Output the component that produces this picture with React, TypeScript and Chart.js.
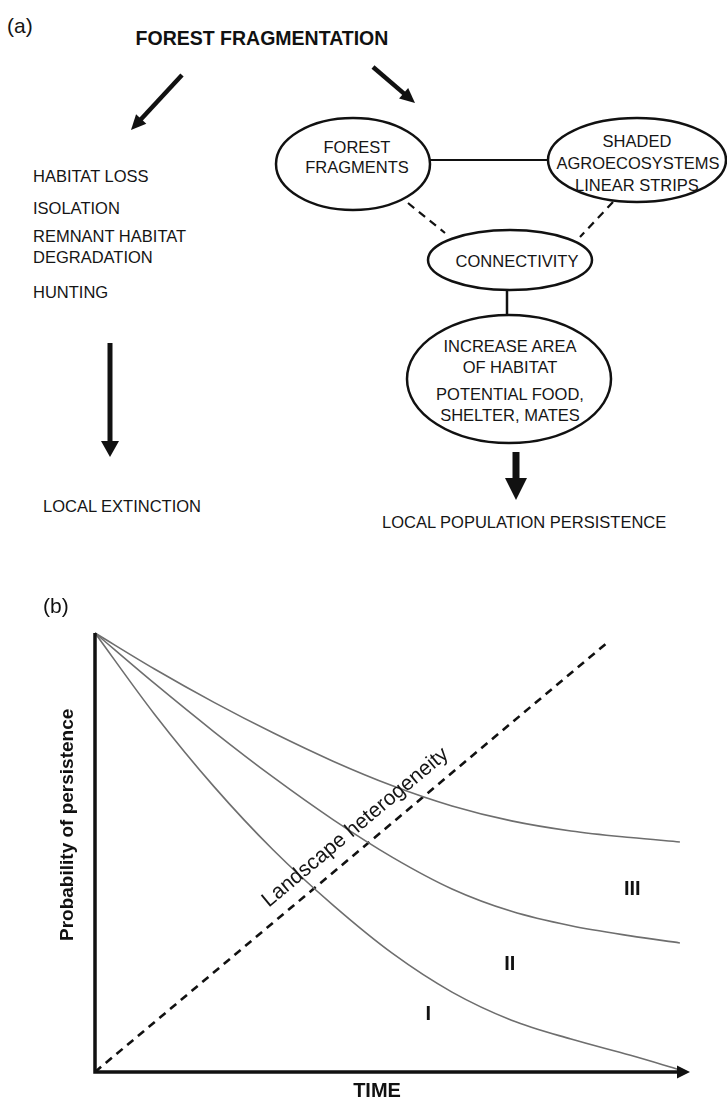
import React, { useEffect, useRef } from "react";
import { Chart, registerables } from "chart.js";

Chart.register(...registerables);

// Persistence curves over time (arbitrary time units 0–100, probability 0–1)
const TIME_STEPS = [0, 10, 20, 30, 40, 50, 60, 70, 80, 90, 98.3];
const PERSISTENCE_I = [1.0, 0.815, 0.65, 0.505, 0.38, 0.27, 0.182, 0.118, 0.075, 0.038, 0.005];
const PERSISTENCE_II = [1.0, 0.885, 0.775, 0.671, 0.575, 0.489, 0.417, 0.366, 0.333, 0.31, 0.294];
const PERSISTENCE_III = [1.0, 0.918, 0.842, 0.772, 0.708, 0.652, 0.606, 0.572, 0.549, 0.534, 0.524];

// Landscape heterogeneity gradient (dashed diagonal)
const HETEROGENEITY_X = [0, 86];
const HETEROGENEITY_Y = [0, 0.977];

// Curve names and where they are written (in data units)
const CURVE_NAMES = ["I", "II", "III"];
const CURVE_NAME_X = [56, 69.7, 90.3];
const CURVE_NAME_Y = [0.13, 0.244, 0.415];

const FONT = '"Liberation Sans", Arial, Helvetica, sans-serif';

const LEFT_LIST = [
  { text: "HABITAT LOSS", y: 182 },
  { text: "ISOLATION", y: 214 },
  { text: "REMNANT HABITAT", y: 242 },
  { text: "DEGRADATION", y: 263 },
  { text: "HUNTING", y: 298 },
];

function Arrow(props: {
  x1: number; y1: number; x2: number; y2: number;
  w: number; head: number; headW: number;
}) {
  const { x1, y1, x2, y2, w, head, headW } = props;
  const dx = x2 - x1, dy = y2 - y1;
  const len = Math.hypot(dx, dy);
  const ux = dx / len, uy = dy / len;
  const bx = x2 - ux * head, by = y2 - uy * head;
  const nx = -uy, ny = ux;
  const pts = [
    [x2, y2],
    [bx + nx * headW / 2, by + ny * headW / 2],
    [bx - nx * headW / 2, by - ny * headW / 2],
  ].map((p) => p.join(",")).join(" ");
  return (
    <g>
      <line x1={x1} y1={y1} x2={bx + ux} y2={by + uy} stroke="#111" strokeWidth={w} />
      <polygon points={pts} fill="#111" />
    </g>
  );
}

function Diagram() {
  const t = { fontFamily: FONT, fontSize: 16.5, fill: "#151515" } as const;
  return (
    <svg width={727} height={580} style={{ position: "absolute", left: 0, top: 0 }}>
      <text x={7} y={33} style={{ fontFamily: FONT, fontSize: 21 }} fill="#151515">(a)</text>
      <text x={262} y={45} textAnchor="middle" style={{ fontFamily: FONT, fontSize: 19.5, fontWeight: 700 }} fill="#111">
        FOREST FRAGMENTATION
      </text>

      <Arrow x1={182} y1={75} x2={131} y2={130} w={4.5} head={15} headW={14} />
      <Arrow x1={373} y1={67} x2={415} y2={103} w={4.5} head={15} headW={14} />

      {LEFT_LIST.map((l) => (
        <text key={l.text} x={33} y={l.y} style={t}>{l.text}</text>
      ))}

      <Arrow x1={110} y1={343} x2={110} y2={457} w={5} head={16} headW={18} />
      <text x={43} y={512} style={t}>LOCAL EXTINCTION</text>

      {/* habitat network */}
      <line x1={430} y1={160} x2={548} y2={160} stroke="#111" strokeWidth={2.2} />
      <line x1={408} y1={203} x2={445} y2={233} stroke="#111" strokeWidth={2.2} strokeDasharray="8 6" />
      <line x1={613} y1={202} x2={580} y2={237} stroke="#111" strokeWidth={2.2} strokeDasharray="8 6" />
      <line x1={507} y1={290} x2={507} y2={315} stroke="#111" strokeWidth={2.5} />

      <ellipse cx={353} cy={164} rx={77} ry={46} fill="#fff" stroke="#111" strokeWidth={2.5} />
      <text x={357} y={153} textAnchor="middle" style={t}>FOREST</text>
      <text x={357} y={173} textAnchor="middle" style={t}>FRAGMENTS</text>

      <ellipse cx={637} cy={160} rx={89} ry={42} fill="#fff" stroke="#111" strokeWidth={2.5} />
      <text x={637} y={147} textAnchor="middle" style={t}>SHADED</text>
      <text x={638} y={169} textAnchor="middle" style={t}>AGROECOSYSTEMS</text>
      <text x={637} y={191} textAnchor="middle" style={t}>LINEAR STRIPS</text>

      <ellipse cx={510} cy={260} rx={82} ry={30} fill="#fff" stroke="#111" strokeWidth={2.5} />
      <text x={517} y={267} textAnchor="middle" style={t}>CONNECTIVITY</text>

      <ellipse cx={509} cy={379} rx={102} ry={64} fill="#fff" stroke="#111" strokeWidth={2.5} />
      <text x={510} y={352} textAnchor="middle" style={t}>INCREASE AREA</text>
      <text x={510} y={373} textAnchor="middle" style={t}>OF HABITAT</text>
      <text x={510} y={400} textAnchor="middle" style={t}>POTENTIAL FOOD,</text>
      <text x={510} y={421} textAnchor="middle" style={t}>SHELTER, MATES</text>

      <Arrow x1={516} y1={452} x2={516} y2={500} w={7} head={22} headW={22} />
      <text x={382} y={528} style={t}>LOCAL POPULATION PERSISTENCE</text>
    </svg>
  );
}

const annotate = {
  id: "annotate",
  afterDatasetsDraw(chart: any) {
    const { ctx, chartArea: a, scales } = chart;
    const xs = scales.x, ys = scales.y;
    ctx.save();
    ctx.fillStyle = "#111";
    ctx.strokeStyle = "#111";

    // axes with arrow on time axis
    ctx.lineWidth = 3.5;
    ctx.lineCap = "butt";
    ctx.lineJoin = "miter";
    ctx.beginPath();
    ctx.moveTo(a.left, a.top);
    ctx.lineTo(a.left, a.bottom);
    ctx.lineTo(a.right - 10, a.bottom);
    ctx.stroke();
    ctx.beginPath();
    ctx.moveTo(a.right, a.bottom);
    ctx.lineTo(a.right - 13, a.bottom - 6.5);
    ctx.lineTo(a.right - 13, a.bottom + 6.5);
    ctx.closePath();
    ctx.fill();

    // panel letter
    ctx.font = `21px ${FONT}`;
    ctx.textAlign = "left";
    ctx.textBaseline = "alphabetic";
    ctx.fillText("(b)", 43, 33);

    // axis titles
    ctx.font = `700 19px ${FONT}`;
    ctx.textAlign = "center";
    ctx.textBaseline = "middle";
    ctx.save();
    ctx.translate(a.left - 27, a.top + (a.bottom - a.top) * 0.437);
    ctx.rotate(-Math.PI / 2);
    ctx.fillText("Probability of persistence", 0, 0);
    ctx.restore();

    ctx.font = `700 20px ${FONT}`;
    ctx.textBaseline = "alphabetic";
    ctx.fillText("TIME", xs.getPixelForValue(47.4), a.bottom + 25);

    // curve names
    ctx.font = `700 20px ${FONT}`;
    ctx.textBaseline = "middle";
    CURVE_NAMES.forEach((n, i) => {
      ctx.fillText(n, xs.getPixelForValue(CURVE_NAME_X[i]), ys.getPixelForValue(CURVE_NAME_Y[i]));
    });

    // label along heterogeneity gradient
    const x0 = xs.getPixelForValue(HETEROGENEITY_X[0]);
    const y0 = ys.getPixelForValue(HETEROGENEITY_Y[0]);
    const x1 = xs.getPixelForValue(HETEROGENEITY_X[1]);
    const y1 = ys.getPixelForValue(HETEROGENEITY_Y[1]);
    const ang = Math.atan2(y1 - y0, x1 - x0);
    const f = 0.534;
    const off = 20;
    const cx = x0 + (x1 - x0) * f + Math.sin(ang) * off;
    const cy = y0 + (y1 - y0) * f - Math.cos(ang) * off;
    ctx.translate(cx, cy);
    ctx.rotate(ang);
    ctx.font = `21px ${FONT}`;
    ctx.fillStyle = "#151515";
    ctx.textAlign = "center";
    ctx.textBaseline = "middle";
    ctx.fillText("Landscape heterogeneity", 0, 0);
    ctx.restore();
  },
};

function PersistenceChart() {
  const ref = useRef<HTMLCanvasElement | null>(null);
  useEffect(() => {
    if (!ref.current) return;
    const curve = (vals: number[]) => ({
      data: TIME_STEPS.map((t, i) => ({ x: t, y: vals[i] })),
      borderColor: "#6e6e6e",
      borderWidth: 1.6,
      cubicInterpolationMode: "monotone" as const,
      fill: false,
      clip: false as any,
      pointRadius: 0,
    });
    const chart = new Chart(ref.current, {
      type: "line",
      data: {
        datasets: [
          curve(PERSISTENCE_I),
          curve(PERSISTENCE_II),
          curve(PERSISTENCE_III),
          {
            data: HETEROGENEITY_X.map((x, i) => ({ x, y: HETEROGENEITY_Y[i] })),
            borderColor: "#111",
            borderWidth: 2.6,
            borderDash: [8, 6],
            fill: false,
            clip: false as any,
            pointRadius: 0,
          },
        ],
      },
      options: {
        animation: false,
        responsive: false,
        maintainAspectRatio: false,
        events: [],
        layout: { padding: { left: 95, right: 37, top: 53, bottom: 29 } },
        scales: {
          x: { type: "linear", min: 0, max: 100, display: false },
          y: { type: "linear", min: 0, max: 1, display: false },
        },
        plugins: { legend: { display: false }, tooltip: { enabled: false } },
      },
      plugins: [annotate],
    });
    return () => chart.destroy();
  }, []);
  return (
    <canvas
      ref={ref}
      width={727}
      height={521}
      style={{ position: "absolute", left: 0, top: 580, width: 727, height: 521 }}
    />
  );
}

export default function App() {
  return (
    <div
      style={{
        position: "absolute",
        left: 0,
        top: 0,
        width: 727,
        height: 1101,
        background: "#fff",
        overflow: "hidden",
      }}
    >
      <Diagram />
      <PersistenceChart />
    </div>
  );
}
